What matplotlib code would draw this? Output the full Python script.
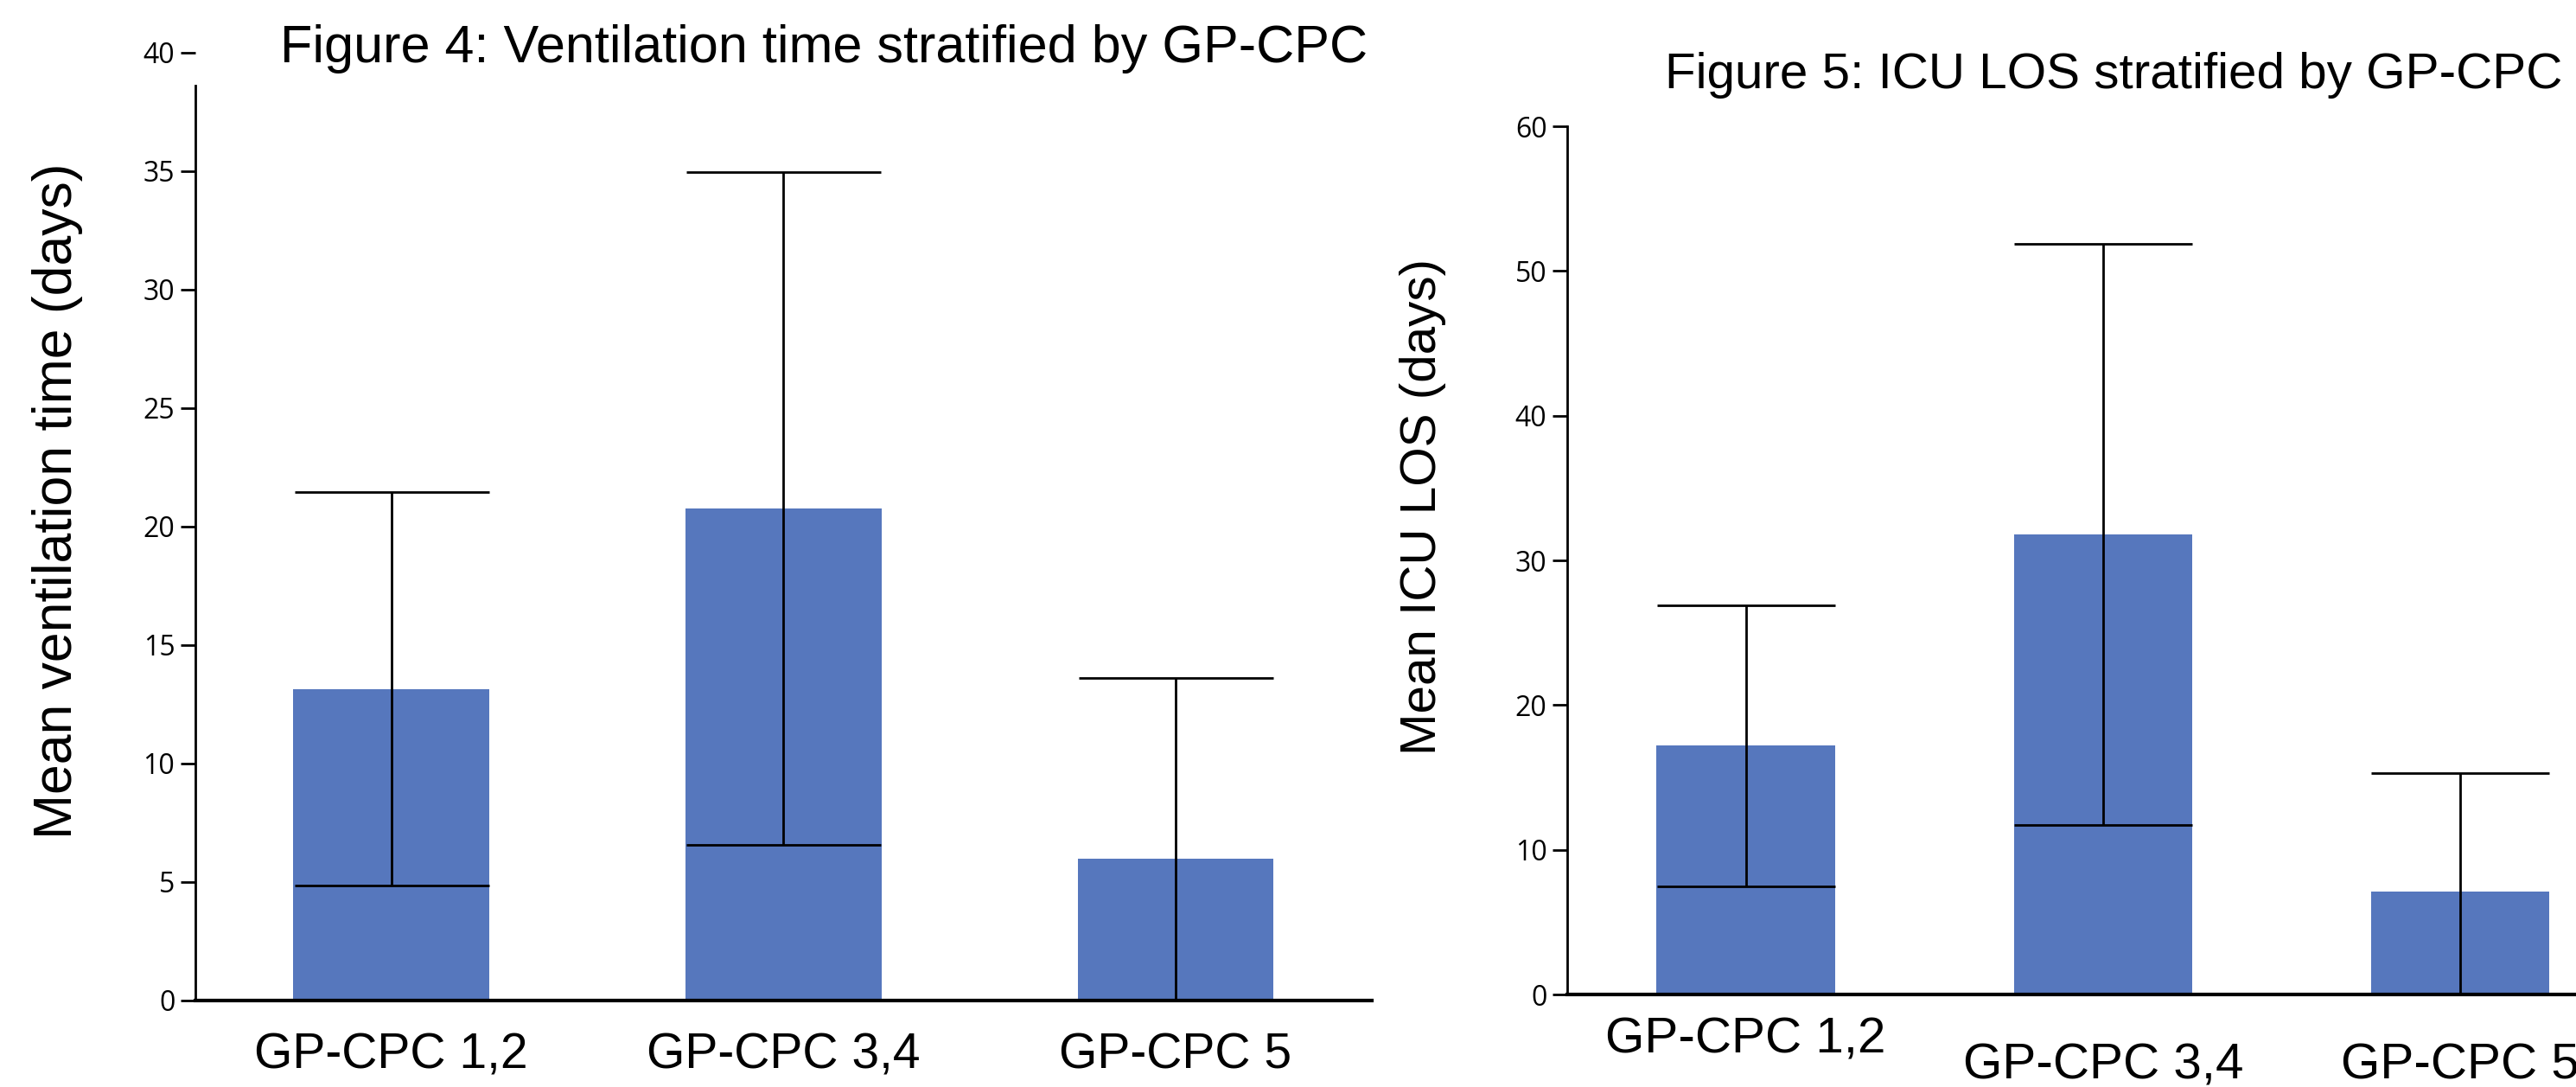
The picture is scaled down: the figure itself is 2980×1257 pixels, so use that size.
import matplotlib
matplotlib.use("Agg")
import matplotlib.pyplot as plt
import numpy as np

# data
groups = ["GP-CPC 1,2", "GP-CPC 3,4", "GP-CPC 5"]
vent_mean = [13.15, 20.75, 6.0]
vent_err = [8.3, 14.2, 7.6]
los_mean = [17.2, 31.8, 7.1]
los_err = [9.7, 20.1, 8.2]

BAR_COLOR = "#5677BD"
TITLE_FONT = ["Liberation Sans", "DejaVu Sans"]
NARROW_FONT = ["Liberation Sans Narrow", "Liberation Sans", "DejaVu Sans"]
TICK_FONT = "Open Sans"

fig = plt.figure(figsize=(29.8, 12.57), dpi=100)

x = np.arange(len(groups))


def style_axes(ax, ticks):
    for s in ("top", "right"):
        ax.spines[s].set_visible(False)
    ax.spines["left"].set_linewidth(2)
    ax.spines["bottom"].set_linewidth(3)
    ax.tick_params(axis="y", length=12, width=2, labelsize=23, pad=5)
    ax.tick_params(axis="x", length=0)
    ax.set_yticks(ticks)
    for lab in ax.get_yticklabels():
        lab.set_family(TICK_FONT)
    ax.set_xlim(-0.5, 2.5)


# --- Figure 4: ventilation time ---
ax1 = fig.add_axes([0.0758, 0.0796, 0.4567, 0.872])
ax1.bar(x, vent_mean, width=0.5, color=BAR_COLOR, zorder=1)
ax1.errorbar(x, vent_mean, yerr=vent_err, fmt="none", ecolor="black",
             elinewidth=2, capsize=81, capthick=2, zorder=2)
style_axes(ax1, np.arange(0, 41, 5))
ax1.set_ylim(0, 40)
ax1.spines["left"].set_bounds(0, 38.6)
ax1.set_xticks(x)
ax1.set_xticklabels(groups, fontsize=41, family=TITLE_FONT)
ax1.tick_params(axis="x", pad=26)
fig.text(0.0223, 0.539, "Mean ventilation time (days)", rotation=90,
         ha="center", va="center", fontsize=45, family=TITLE_FONT)
fig.text(0.3198, 0.9547, "Figure 4: Ventilation time stratified by GP-CPC",
         ha="center", va="center", fontsize=44, family=TITLE_FONT)

# --- Figure 5: ICU LOS ---
ax2 = fig.add_axes([0.6084, 0.0851, 0.416, 0.7987])
ax2.bar(x, los_mean, width=0.5, color=BAR_COLOR, zorder=1)
ax2.errorbar(x, los_mean, yerr=los_err, fmt="none", ecolor="black",
             elinewidth=2, capsize=74, capthick=2, zorder=2)
style_axes(ax2, np.arange(0, 61, 10))
ax2.set_ylim(0, 60)
ax2.set_xticks(x)
ax2.set_xticklabels(groups, fontsize=42, family=NARROW_FONT)
ax2.tick_params(axis="x", pad=18)
for i, lab in enumerate(ax2.get_xticklabels()):
    if i > 0:
        lab.set_y(-0.03)
fig.text(0.5523, 0.534, "Mean ICU LOS (days)", rotation=90,
         ha="center", va="center", fontsize=42, family=NARROW_FONT)
fig.text(0.8205, 0.931, "Figure 5: ICU LOS stratified by GP-CPC",
         ha="center", va="center", fontsize=42, family=NARROW_FONT)

fig.savefig("out.png", dpi=100)
